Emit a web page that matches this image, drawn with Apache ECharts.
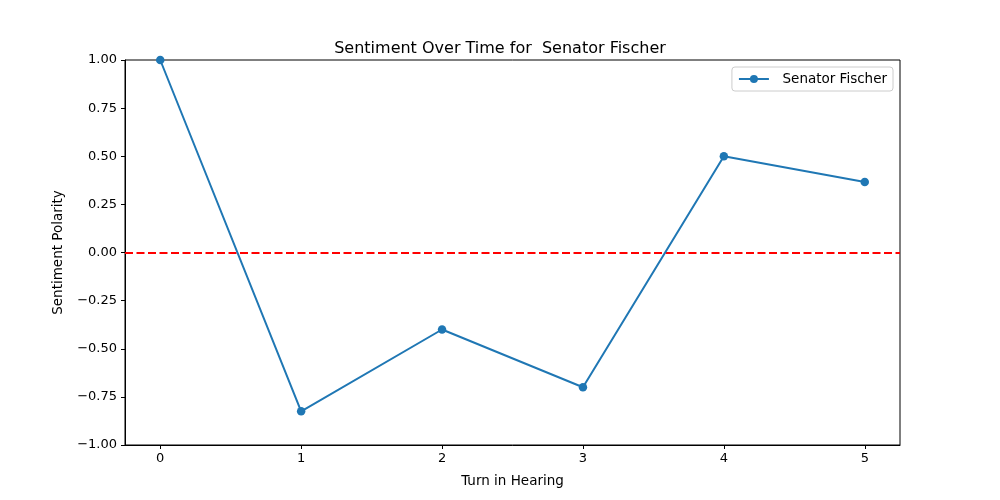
<!DOCTYPE html>
<html>
<head>
<meta charset="utf-8">
<script src="https://cdn.jsdelivr.net/npm/echarts@6/dist/echarts.min.js"></script>
<style>html,body{margin:0;padding:0;background:#fff}#c{width:1000px;height:500px}</style>
</head>
<body>
<div id="c"></div>
<script>
const turns = [0, 1, 2, 3, 4, 5];
const sentiment = [1.0, -0.825, -0.4, -0.7, 0.5, 0.3667];
const xTicks = [0, 1, 2, 3, 4, 5];
const yTicks = [-1, -0.75, -0.5, -0.25, 0, 0.25, 0.5, 0.75, 1];
const seriesName = '  Senator Fischer';
const titleText = 'Sentiment Over Time for  Senator Fischer';

const font = 'DejaVu Sans';
const chart = echarts.init(document.getElementById('c'), null, {renderer: 'canvas'});
chart.setOption({
  animation: false,
  backgroundColor: '#fff',
  textStyle: {fontFamily: font},
  title: {
    text: titleText, left: 'center', top: 36,
    textStyle: {fontFamily: font, fontSize: 16, fontWeight: 'normal', color: '#000'}
  },
  grid: {left: 125, right: 100, top: 60, bottom: 55, show: true, borderColor: '#000', borderWidth: 1, backgroundColor: 'transparent'},
  legend: {
    data: [seriesName], right: 107, top: 67,
    orient: 'vertical',
    borderColor: '#ccc', borderWidth: 1, borderRadius: 3,
    padding: [5, 6, 5, 6],
    itemWidth: 30, itemHeight: 10, itemGap: 8,
    textStyle: {fontFamily: font, fontSize: 13.5, color: '#000'}
  },
  xAxis: {
    type: 'value', min: -0.25, max: 5.25,
    name: 'Turn in Hearing', nameLocation: 'middle', nameGap: 29,
    nameTextStyle: {fontFamily: font, fontSize: 13.5, color: '#000'},
    axisLine: {show: true, onZero: false, lineStyle: {color: '#000'}},
    axisTick: {show: true, length: 4, lineStyle: {color: '#000'}, customValues: xTicks},
    axisLabel: {color: '#000', fontSize: 13, fontFamily: font, margin: 7, customValues: xTicks},
    splitLine: {show: false}
  },
  yAxis: {
    type: 'value', min: -1, max: 1, interval: 0.25,
    name: 'Sentiment Polarity', nameLocation: 'middle', nameGap: 60,
    nameTextStyle: {fontFamily: font, fontSize: 13.5, color: '#000'},
    axisLine: {show: true, onZero: false, lineStyle: {color: '#000'}},
    axisTick: {show: true, length: 4, lineStyle: {color: '#000'}},
    axisLabel: {color: '#000', fontSize: 13, fontFamily: font, margin: 8,
      formatter: v => (v < 0 ? '\u2212' : '') + Math.abs(v).toFixed(2)},
    splitLine: {show: false}
  },
  series: [{
    name: seriesName, type: 'line',
    data: turns.map((t, i) => [t, sentiment[i]]),
    color: '#1f77b4',
    lineStyle: {width: 2, color: '#1f77b4'},
    symbol: 'circle', symbolSize: 8.5,
    itemStyle: {color: '#1f77b4'},
    z: 3,
    markLine: {
      silent: true, symbol: ['none', 'none'],
      label: {show: false},
      lineStyle: {color: '#ff0000', type: [8, 3.5], width: 2},
      data: [{yAxis: 0}],
      z: 2
    }
  }]
});
</script>
</body>
</html>
